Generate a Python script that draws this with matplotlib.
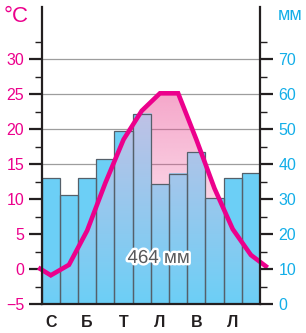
import numpy as np
import matplotlib
matplotlib.use('Agg')
import matplotlib.pyplot as plt
from matplotlib.patches import Polygon
import matplotlib.patheffects as pe

# ---------------- data ----------------
month_labels = ['С', '', 'Б', '', 'Т', '', 'Л', '', 'В', '', 'Л', '']
temperature = [-0.9, 0.6, 5.5, 12.3, 18.5, 22.6, 25.1, 25.1, 18.5, 11.5, 5.7, 2.0]
year_edge_temperature = 0.2
precipitation = [36.1, 31.1, 36.1, 41.3, 49.4, 54.3, 34.2, 37.2, 43.3, 30.2, 36.1, 37.3]
total_label = '464 мм'
temp_ticks = [-5, 0, 5, 10, 15, 20, 25, 30]
precip_ticks = [0, 10, 20, 30, 40, 50, 60, 70]

# ---------------- style ----------------
MAGENTA = '#ec008c'
CYAN = '#13aee8'
BLUE = np.array([108, 207, 246]) / 255
LAVENDER = np.array([200, 192, 228]) / 255
PINK = np.array([236, 80, 150]) / 255
DARK = '#231f20'
plt.rcParams['font.family'] = ['Liberation Sans', 'DejaVu Sans']

W, H = 306, 333
fig = plt.figure(figsize=(W / 100, H / 100), dpi=100)
ax = fig.add_axes([41.7 / W, 29 / H, (260 - 41.7) / W, (304 - 7) / H])
T0, T1 = -5.0, 37.43


def mm_to_t(v):
    return np.asarray(v) / 2.0 + T0


n = len(temperature)
centers = np.arange(n) + 0.5
line_x = np.concatenate([[-0.19], centers, [12.42]])
line_y = np.concatenate([[year_edge_temperature], temperature, [year_edge_temperature]])

# clip polygon under temperature curve
poly_xy = np.vstack([np.column_stack([line_x, line_y]),
                     [[line_x[-1], T0], [line_x[0], T0]]])
clip_poly = Polygon(poly_xy, closed=True, transform=ax.transData,
                    facecolor='none', edgecolor='none')
ax.add_patch(clip_poly)

# pink gradient under the curve
N = 400
tvals = np.linspace(T1, T0, N)
alpha = np.clip(0.5 * (tvals - T0) / 30.0, 0, 0.55)
img = np.zeros((N, 1, 4))
img[:, 0, :3] = PINK
img[:, 0, 3] = alpha
im = ax.imshow(img, extent=[-0.5, 12.5, T0, T1], aspect='auto', origin='upper',
               interpolation='bilinear', zorder=1)
im.set_clip_path(clip_poly)

# bars (solid blue)
bar_top = mm_to_t(precipitation)
ax.bar(centers, bar_top - T0, bottom=T0, width=1.0, color=BLUE,
       edgecolor='none', zorder=2)

# lavender-to-blue gradient on the bars under the curve
for i in range(n):
    top = bar_top[i]
    tv = np.linspace(top, T0, 200)
    frac = np.clip((tv - T0) / 30.0, 0, 1)[:, None]
    bimg = np.zeros((200, 1, 3))
    bimg[:, 0, :] = BLUE + (LAVENDER - BLUE) * frac
    bi = ax.imshow(bimg, extent=[i, i + 1, T0, top], aspect='auto', origin='upper',
                   interpolation='bilinear', zorder=3)
    bi.set_clip_path(clip_poly)

# bar edges
ax.bar(centers, bar_top - T0, bottom=T0, width=1.0, facecolor='none',
       edgecolor='#55606a', linewidth=0.9, zorder=4)

# temperature line
ax.plot(line_x, line_y, color=MAGENTA, lw=3.3, solid_capstyle='butt',
        solid_joinstyle='miter', zorder=6, clip_on=False)

# grid
ax.set_axisbelow(True)
ax.yaxis.grid(True, color='#9d9d9d', lw=0.9)

ax.set_xlim(0, 12)
ax.set_ylim(T0, T1)

# left axis
ax.set_yticks(temp_ticks)
ax.set_yticklabels([str(t) if t >= 0 else '\u2212' + str(-t) for t in temp_ticks])
ax.set_yticks(np.arange(-2.5, 33, 5), minor=True)
ax.tick_params(axis='y', which='major', length=9.4, width=1.6, color=DARK,
               labelcolor=MAGENTA, labelsize=11.5, pad=3.2)
ax.tick_params(axis='y', which='minor', length=5, width=1.0, color=DARK)

# x axis
ax.set_xticks(centers)
ax.set_xticklabels(month_labels, fontweight='bold', fontsize=11.5, color=DARK)
ax.tick_params(axis='x', length=0, pad=8)

for s in ['top', 'right']:
    ax.spines[s].set_visible(False)
for s in ['left', 'bottom']:
    ax.spines[s].set_linewidth(1.6)
    ax.spines[s].set_color(DARK)
    ax.spines[s].set_zorder(7)

# right axis (mm)
ax2 = ax.twinx()
ax2.set_ylim(0, 2 * (T1 - T0))
ax2.set_yticks(precip_ticks)
ax2.set_yticks(np.arange(5, 80, 10), minor=True)
ax2.tick_params(axis='y', which='major', length=9.4, width=1.6, color=DARK,
                labelcolor=CYAN, labelsize=11.5, pad=4)
ax2.tick_params(axis='y', which='minor', length=5, width=1.0, color=DARK)
for s in ['top', 'left', 'bottom']:
    ax2.spines[s].set_visible(False)
ax2.spines['right'].set_linewidth(1.6)
ax2.spines['right'].set_color(DARK)

# texts
fig.text(3.5 / W, 1 - 22 / H, '°C', color=MAGENTA, fontsize=16, va='baseline', ha='left')
fig.text(277.5 / W, 1 - 20 / H, 'мм', color=CYAN, fontsize=13, va='baseline', ha='left')
ax.text(6.42, 0.86, total_label, ha='center', va='baseline', fontsize=13.5,
        color='#58595b', zorder=8,
        path_effects=[pe.withStroke(linewidth=3.5, foreground='white')])

fig.savefig('out.png', dpi=100)
